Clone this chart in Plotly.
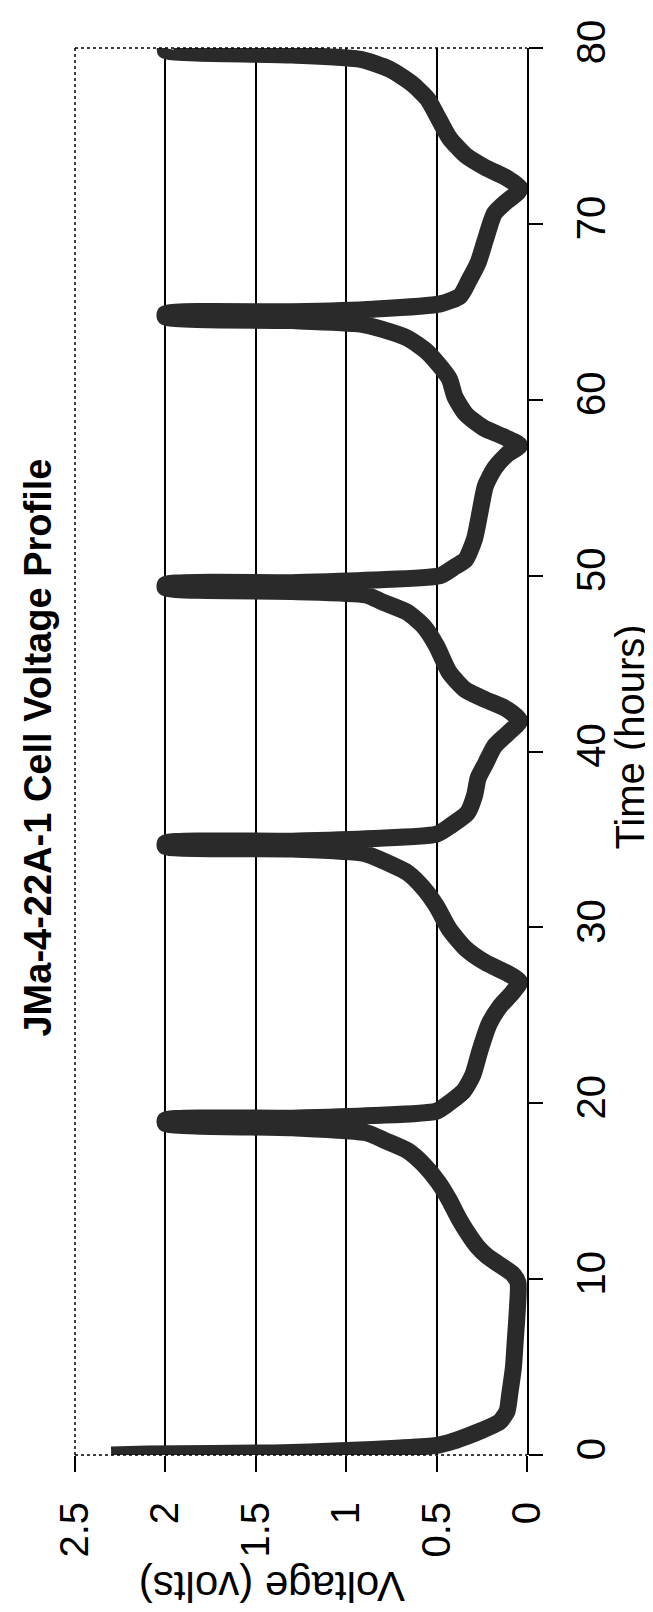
import plotly.graph_objects as go

# ---- data ----
time_h = [0.0, 0.05, 0.12, 0.25, 0.4, 0.55, 0.75, 1.0, 1.4, 1.9, 2.5, 3.5, 5.0, 6.5, 8.0, 9.8,
          10.3, 10.8, 11.3, 11.8, 12.5, 13.5, 14.5, 15.5, 16.5, 17.3, 17.9, 18.3, 18.6, 18.85, 19.05,
          19.15, 19.3, 19.55, 20.1, 20.7, 21.6, 23.0, 24.5, 25.5, 26.3, 26.9,
          27.4, 28.0, 28.8, 29.9, 31.2, 32.2, 33.1, 33.8, 34.2, 34.45, 34.6, 34.8,
          34.9, 35.05, 35.3, 35.8, 36.5, 37.5, 38.5, 39.3, 40.3, 41.0, 41.75,
          42.4, 42.95, 43.5, 44.5, 46.0, 47.1, 47.9, 48.5, 48.9, 49.1, 49.3, 49.5,
          49.6, 49.75, 50.0, 50.5, 50.9, 52.1, 53.6, 55.1, 56.1, 56.9, 57.4,
          57.9, 58.4, 59.2, 60.2, 61.2, 62.7, 63.5, 64.0, 64.3, 64.5, 64.7, 64.9,
          65.0, 65.15, 65.45, 65.9, 66.8, 67.8, 69.1, 70.6, 71.3, 71.8, 72.06,
          72.6, 73.2, 73.9, 74.9, 76.2, 77.1, 78.0, 78.8, 79.35, 79.6, 79.85, 80.0]
voltage_v = [2.30, 2.10, 1.40, 1.00, 0.70, 0.50, 0.42, 0.35, 0.25, 0.15, 0.11, 0.095, 0.075, 0.065, 0.055, 0.05,
             0.08, 0.15, 0.22, 0.27, 0.32, 0.38, 0.43, 0.49, 0.57, 0.66, 0.79, 0.88, 1.3, 2.0, 2.0,
             1.3, 0.85, 0.50, 0.42, 0.35, 0.30, 0.26, 0.21, 0.15, 0.08, 0.04,
             0.11, 0.23, 0.34, 0.43, 0.50, 0.57, 0.66, 0.80, 0.90, 1.3, 2.0, 2.0,
             1.3, 0.85, 0.50, 0.42, 0.33, 0.29, 0.27, 0.23, 0.18, 0.11, 0.04,
             0.11, 0.23, 0.34, 0.43, 0.50, 0.57, 0.66, 0.80, 0.89, 1.3, 2.0, 2.0,
             1.3, 0.85, 0.48, 0.40, 0.34, 0.29, 0.26, 0.23, 0.18, 0.11, 0.04,
             0.13, 0.24, 0.34, 0.40, 0.43, 0.55, 0.66, 0.80, 0.92, 1.3, 2.0, 2.0,
             1.3, 0.85, 0.48, 0.37, 0.32, 0.27, 0.23, 0.18, 0.11, 0.05, 0.04,
             0.11, 0.23, 0.34, 0.43, 0.50, 0.55, 0.64, 0.76, 0.92, 1.3, 2.0, 2.0]

time_ticks = [0, 10, 20, 30, 40, 50, 60, 70, 80]
volt_ticks = [0, 0.5, 1, 1.5, 2, 2.5]
volt_tick_text = ["0", "0.5", "1", "1.5", "2", "2.5"]
volt_grid = [0.5, 1, 1.5, 2]

title_text = "JMa-4-22A-1 Cell Voltage Profile"
x_title = "Time (hours)"
y_title = "Voltage (volts)"

FONT = "Liberation Sans, Arial, sans-serif"

fig = go.Figure()
fig.add_trace(go.Scatter(x=voltage_v, y=time_h, mode="lines",
                         line=dict(color="#2a2a2a", width=17, shape="spline", smoothing=0.6),
                         hoverinfo="skip", showlegend=False))
# empty trace to activate the grid-only overlay axis
fig.add_trace(go.Scatter(x=[None], y=[None], xaxis="x2", yaxis="y",
                         mode="lines", showlegend=False, hoverinfo="skip"))

fig.update_layout(
    width=653, height=1612,
    margin=dict(l=67, r=134, t=31, b=165),
    paper_bgcolor="white", plot_bgcolor="white",
    font=dict(family=FONT, color="black"),
    xaxis=dict(range=[2.5, 0], tickvals=volt_ticks, ticktext=volt_tick_text,
               tickangle=-90, ticks="outside", ticklen=16, tickwidth=1.5,
               tickcolor="black", showgrid=False, zeroline=False, showline=False,
               tickfont=dict(size=40, family=FONT), ticklabelstandoff=14),
    xaxis2=dict(range=[2.5, 0], overlaying="x", tickvals=volt_grid,
                showticklabels=False, ticks="", showgrid=True, gridcolor="black",
                gridwidth=1.5, zeroline=False, showline=False, side="bottom"),
    yaxis=dict(range=[0, 80], tickvals=time_ticks, side="right",
               tickangle=-90, ticks="outside", ticklen=14, tickwidth=1.5,
               tickcolor="black", showgrid=False, zeroline=False,
               showline=True, linecolor="black", linewidth=1.5,
               tickfont=dict(size=40, family=FONT), ticklabelstandoff=14),
    shapes=[
        dict(type="line", xref="paper", yref="paper", x0=0, x1=1, y0=1, y1=1,
             line=dict(color="black", width=1.5, dash="dot")),
        dict(type="line", xref="paper", yref="paper", x0=0, x1=0, y0=0, y1=1,
             line=dict(color="black", width=1.5, dash="dot")),
        dict(type="line", xref="paper", yref="paper", x0=0, x1=1, y0=0, y1=0,
             line=dict(color="black", width=1.5, dash="dot")),
    ],
    annotations=[
        dict(text="<b>" + title_text + "</b>", xref="paper", yref="paper",
             x=(30 - 67) / 452, y=(1447 - 735) / 1416, textangle=-90,
             showarrow=False, xanchor="center", yanchor="middle",
             font=dict(size=38, family=FONT, color="black")),
        dict(text=x_title, xref="paper", yref="paper",
             x=(622 - 67) / 452, y=(1447 - 725) / 1416, textangle=-90,
             showarrow=False, xanchor="center", yanchor="middle",
             font=dict(size=40, family=FONT, color="black")),
        dict(text=y_title, xref="paper", yref="paper",
             x=(264 - 67) / 452, y=(1447 - 1580) / 1416, textangle=180,
             showarrow=False, xanchor="center", yanchor="middle",
             font=dict(size=42, family=FONT, color="black")),
    ],
)

fig.write_html("out.html")
